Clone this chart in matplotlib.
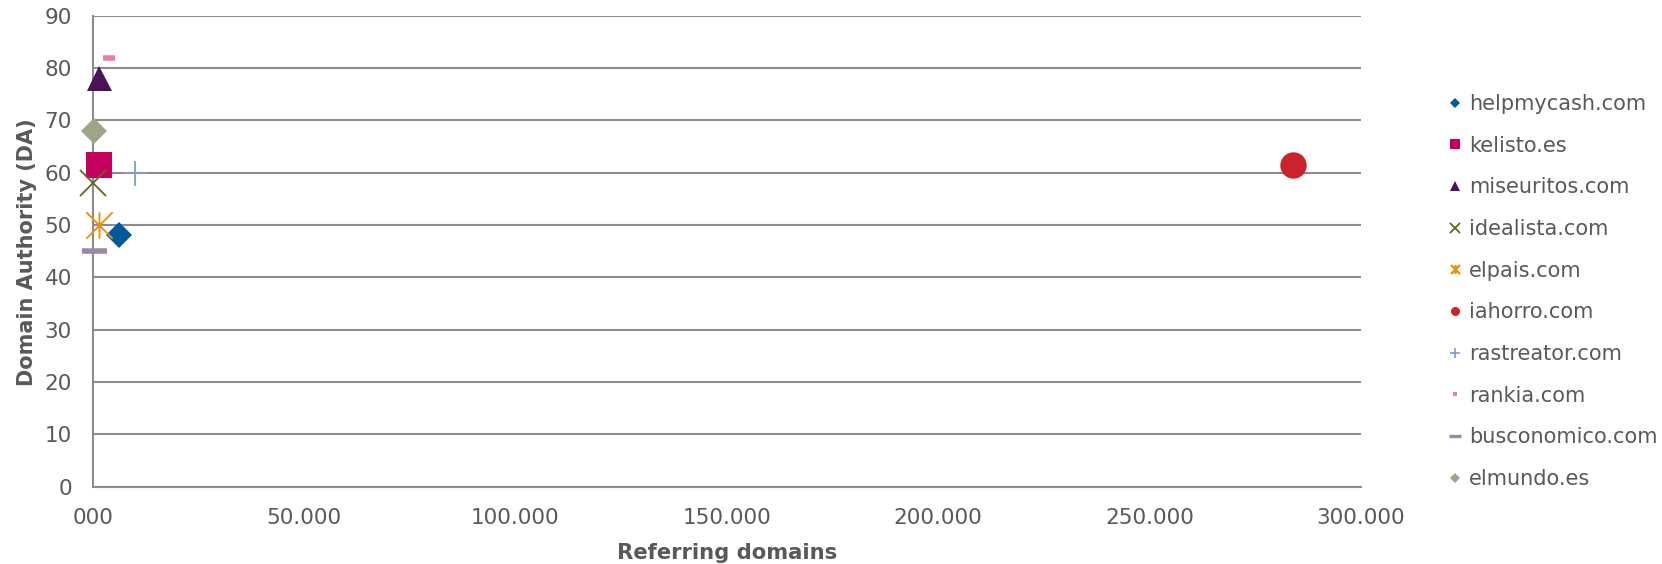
import matplotlib
matplotlib.use("Agg")
import matplotlib.pyplot as plt
from matplotlib.lines import Line2D
from matplotlib.path import Path

# ---- data ----
sites = ["helpmycash.com", "kelisto.es", "miseuritos.com", "idealista.com",
         "elpais.com", "iahorro.com", "rastreator.com", "rankia.com",
         "busconomico.com", "elmundo.es"]
referring_domains = [6200, 1400, 1400, 100, 1400, 284000, 9900, 3900, 300, 400]
domain_authority = [48, 61.5, 78, 58, 50, 61.5, 60, 82, 45, 68]
x_ticks = [0, 50000, 100000, 150000, 200000, 250000, 300000]
x_tick_labels = ["000", "50.000", "100.000", "150.000", "200.000", "250.000", "300.000"]
y_ticks = [0, 10, 20, 30, 40, 50, 60, 70, 80, 90]

# ---- styles ----
star = Path([(-0.5, -0.5), (0.5, 0.5), (-0.5, 0.5), (0.5, -0.5), (0, -0.5), (0, 0.5)],
            [Path.MOVETO, Path.LINETO, Path.MOVETO, Path.LINETO, Path.MOVETO, Path.LINETO])
styles = [
    dict(marker="D", color="#00599A", ms=13, lm="D", lms=5.5, mew=0, lmew=0, filled=True),
    dict(marker="s", color="#C4005C", ms=18.5, lm="s", lms=6.5, mew=0, lmew=0, filled=True),
    dict(marker="^", color="#4A1257", ms=18, lm="^", lms=6.5, mew=0, lmew=0, filled=True),
    dict(marker="x", color="#5A6B1E", ms=19, lm="x", lms=6.5, mew=1.3, lmew=1.3, filled=False),
    dict(marker=star, color="#E8900C", ms=19, lm=star, lms=6.5, mew=1.3, lmew=1.6, filled=False),
    dict(marker="o", color="#CC2229", ms=19, lm="o", lms=6.5, mew=0, lmew=0, filled=True),
    dict(marker="+", color="#7F9CCB", ms=18, lm="+", lms=6.5, mew=1.3, lmew=1.2, filled=False),
    dict(marker="_", color="#E8809E", ms=9, lm="s", lms=2.5, mew=4, lmew=0, filled=False),
    dict(marker="_", color="#9A87A6", ms=18, lm="_", lms=8, mew=4, lmew=2.4, filled=False),
    dict(marker="D", color="#9EA68A", ms=13, lm="D", lms=5.5, mew=0, lmew=0, filled=True),
]

text_color = "#595959"
grid_color = "#8C8C8C"
W, H = 1662, 564

fig = plt.figure(figsize=(W / 100, H / 100), dpi=100)
ax = fig.add_axes([92.7 / W, 1 - 486.7 / H, (1361 - 92.7) / W, (486.7 - 15.7) / H])

handles = []
for name, xv, yv, st in zip(sites, referring_domains, domain_authority, styles):
    c = st["color"]
    ax.plot([xv], [yv], linestyle="none", marker=st["marker"], markersize=st["ms"],
            markerfacecolor=c, markeredgecolor=c, markeredgewidth=st["mew"],
            zorder=3, clip_on=False)
    handles.append(Line2D([], [], linestyle="none", marker=st["lm"], markersize=st["lms"],
                          markerfacecolor=c, markeredgecolor=c,
                          markeredgewidth=st["lmew"], label=name))

ax.set_xlim(0, 300000)
ax.set_ylim(0, 90)
ax.set_xticks(x_ticks)
ax.set_xticklabels(x_tick_labels)
ax.set_yticks(y_ticks)
ax.tick_params(axis="both", length=0, labelsize=15.5, colors=text_color)
ax.tick_params(axis="x", pad=15)
ax.tick_params(axis="y", pad=15)
ax.yaxis.grid(True, color=grid_color, linewidth=1.5)
ax.set_axisbelow(True)
for side in ["top", "right"]:
    ax.spines[side].set_visible(False)
for side in ["left", "bottom"]:
    ax.spines[side].set_color(grid_color)
    ax.spines[side].set_linewidth(1.5)

fig.text(726.8 / W, 1 - 559 / H, "Referring domains", fontsize=15.2, fontweight="bold",
         color=text_color, ha="center", va="baseline")
fig.text(27 / W, 1 - 252 / H, "Domain Authority (DA)", fontsize=15, fontweight="bold",
         color=text_color, ha="center", va="center", rotation=90)

fig.legend(handles=handles, loc="center left", bbox_to_anchor=(1448 / W, 1 - 291.5 / H),
           frameon=False, fontsize=15, labelcolor=text_color, handlelength=0.7,
           handletextpad=0.3, labelspacing=1.04, borderpad=0, borderaxespad=0)

fig.savefig("out.png", dpi=100)
